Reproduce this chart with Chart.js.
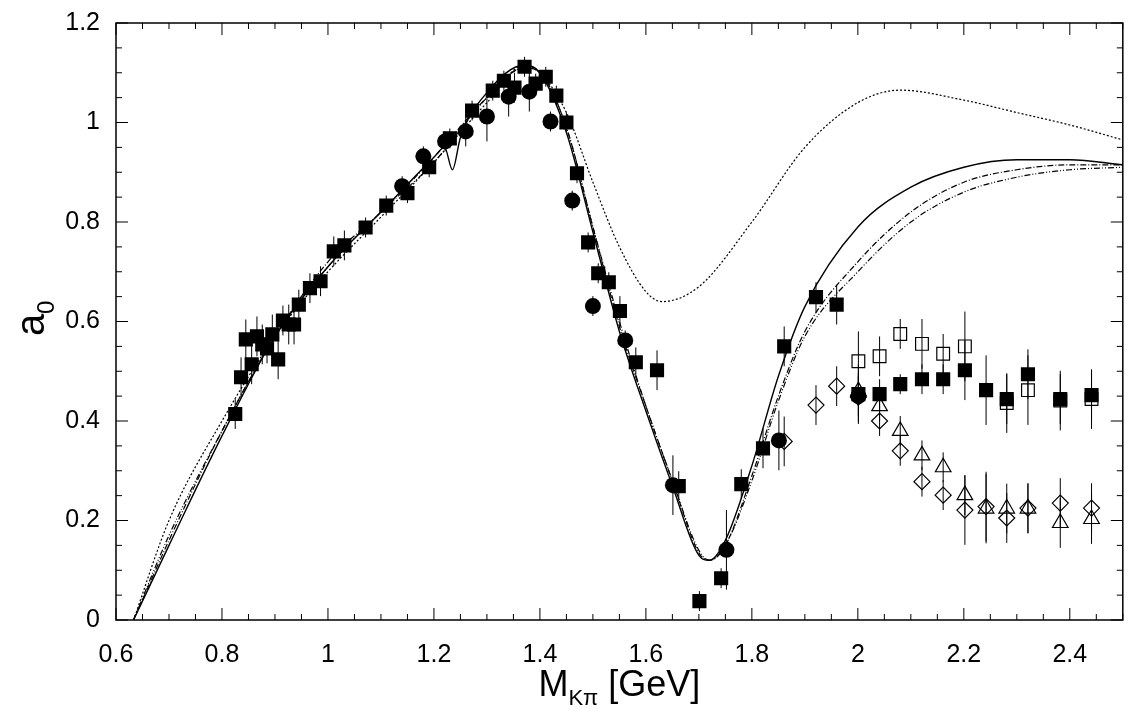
<!DOCTYPE html>
<html>
<head>
<meta charset="utf-8">
<script src="https://cdn.jsdelivr.net/npm/chart.js@4/dist/chart.umd.min.js"></script>
<style>
  body { margin: 0; background: #fff; }
  #wrap { width: 1133px; height: 711px; }
</style>
</head>
<body>
<div id="wrap"><canvas id="a0Chart"></canvas></div>
<script>
// curves
const solidX = [0.633, 0.7, 0.8, 0.9, 1.0, 1.1, 1.2, 1.22, 1.235, 1.25, 1.3, 1.37, 1.4, 1.45, 1.5, 1.55, 1.6, 1.65, 1.7, 1.72, 1.75, 1.8, 1.85, 1.9, 2.0, 2.1, 2.2, 2.3, 2.4, 2.5];
const solidY = [0, 0.15, 0.37, 0.57, 0.71, 0.82, 0.93, 0.95, 0.905, 0.97, 1.06, 1.115, 1.10, 0.98, 0.78, 0.58, 0.42, 0.27, 0.13, 0.12, 0.16, 0.31, 0.49, 0.63, 0.79, 0.87, 0.91, 0.925, 0.925, 0.915];
const dashAX = [0.633, 0.7, 0.8, 0.9, 1.0, 1.1, 1.2, 1.3, 1.37, 1.4, 1.45, 1.5, 1.55, 1.6, 1.65, 1.7, 1.72, 1.75, 1.8, 1.85, 1.9, 2.0, 2.1, 2.2, 2.3, 2.4, 2.5];
const dashAY = [0, 0.16, 0.38, 0.57, 0.72, 0.82, 0.93, 1.05, 1.11, 1.10, 0.99, 0.79, 0.59, 0.43, 0.28, 0.135, 0.12, 0.15, 0.29, 0.45, 0.58, 0.72, 0.82, 0.88, 0.905, 0.915, 0.915];
const dashBY = [0, 0.17, 0.38, 0.57, 0.71, 0.82, 0.92, 1.05, 1.11, 1.10, 0.99, 0.79, 0.60, 0.43, 0.28, 0.14, 0.12, 0.15, 0.28, 0.44, 0.57, 0.70, 0.80, 0.86, 0.89, 0.905, 0.91];
const dotX = [0.633, 0.7, 0.8, 0.9, 1.0, 1.1, 1.2, 1.3, 1.37, 1.4, 1.45, 1.5, 1.55, 1.6, 1.63, 1.7, 1.8, 1.9, 2.0, 2.08, 2.2, 2.3, 2.4, 2.5];
const dotY = [0, 0.20, 0.40, 0.57, 0.70, 0.81, 0.92, 1.04, 1.115, 1.10, 1.02, 0.88, 0.75, 0.66, 0.64, 0.67, 0.80, 0.95, 1.04, 1.065, 1.045, 1.02, 0.995, 0.965];

// filled squares
const sqX = [0.825, 0.836, 0.845, 0.856, 0.866, 0.876, 0.885, 0.895, 0.906, 0.915, 0.926, 0.936, 0.945, 0.966, 0.986, 1.011, 1.031, 1.071, 1.110, 1.150, 1.191, 1.230, 1.272, 1.311, 1.332, 1.352, 1.371, 1.392, 1.411, 1.431, 1.450, 1.470, 1.491, 1.510, 1.530, 1.551, 1.581, 1.621, 1.662, 1.701, 1.742, 1.780, 1.821, 1.861, 1.921, 1.960, 2.001, 2.041, 2.080, 2.121, 2.161, 2.202, 2.242, 2.281, 2.321, 2.382, 2.441];
const sqY = [0.414, 0.488, 0.564, 0.514, 0.570, 0.554, 0.546, 0.574, 0.524, 0.602, 0.594, 0.594, 0.634, 0.667, 0.681, 0.741, 0.753, 0.789, 0.833, 0.858, 0.910, 0.968, 1.024, 1.064, 1.084, 1.070, 1.112, 1.078, 1.092, 1.054, 1.000, 0.898, 0.759, 0.697, 0.679, 0.621, 0.518, 0.502, 0.269, 0.038, 0.084, 0.273, 0.345, 0.550, 0.649, 0.634, 0.454, 0.454, 0.474, 0.484, 0.484, 0.502, 0.462, 0.444, 0.494, 0.444, 0.452];
const sqErr = [0.03, 0.04, 0.04, 0.04, 0.04, 0.04, 0.03, 0.04, 0.04, 0.03, 0.04, 0.04, 0.03, 0.03, 0.03, 0.03, 0.03, 0.02, 0.02, 0.02, 0.02, 0.02, 0.02, 0.02, 0.02, 0.03, 0.02, 0.02, 0.02, 0.02, 0.02, 0.02, 0.02, 0.02, 0.02, 0.03, 0.03, 0.04, 0.03, 0.02, 0.02, 0.03, 0.04, 0.04, 0.03, 0.04, 0.06, 0.03, 0.02, 0.03, 0.03, 0.06, 0.07, 0.05, 0.05, 0.05, 0.05];
// filled circles
const ciX = [1.140, 1.180, 1.221, 1.260, 1.300, 1.341, 1.380, 1.420, 1.461, 1.500, 1.561, 1.651, 1.752, 1.851, 2.001];
const ciY = [0.872, 0.932, 0.962, 0.982, 1.012, 1.052, 1.062, 1.002, 0.843, 0.631, 0.562, 0.271, 0.141, 0.361, 0.450];
const ciErr = [0.02, 0.02, 0.02, 0.03, 0.05, 0.04, 0.04, 0.02, 0.02, 0.02, 0.02, 0.06, 0.08, 0.06, 0.04];
// open squares
const osX = [2.001, 2.041, 2.080, 2.121, 2.161, 2.202, 2.281, 2.321, 2.382, 2.441];
const osY = [0.520, 0.530, 0.575, 0.555, 0.535, 0.550, 0.436, 0.462, 0.441, 0.444];
const osErr = [0.06, 0.04, 0.03, 0.05, 0.04, 0.07, 0.06, 0.07, 0.06, 0.06];
// open diamonds
const diX = [1.861, 1.921, 1.960, 2.001, 2.041, 2.080, 2.121, 2.161, 2.202, 2.242, 2.281, 2.321, 2.382, 2.441];
const diY = [0.359, 0.432, 0.470, 0.448, 0.400, 0.340, 0.278, 0.251, 0.221, 0.228, 0.205, 0.225, 0.235, 0.225];
const diErr = [0.05, 0.04, 0.04, 0.05, 0.03, 0.03, 0.03, 0.03, 0.07, 0.07, 0.05, 0.05, 0.05, 0.05];
// open triangles
const trX = [2.001, 2.041, 2.080, 2.121, 2.161, 2.202, 2.242, 2.281, 2.321, 2.382, 2.441];
const trY = [0.460, 0.430, 0.380, 0.331, 0.307, 0.251, 0.224, 0.224, 0.224, 0.195, 0.203];
const trErr = [0.03, 0.03, 0.03, 0.03, 0.03, 0.04, 0.07, 0.05, 0.05, 0.05, 0.05];

const xTicks = [0.6, 0.8, 1, 1.2, 1.4, 1.6, 1.8, 2, 2.2, 2.4];
const yTicks = [0, 0.2, 0.4, 0.6, 0.8, 1, 1.2];

const pts = (xs, ys) => xs.map((x, i) => ({ x: x, y: ys[i] }));
const font = "'Liberation Sans Narrow', 'Liberation Sans', Arial, sans-serif";

const line = (xs, ys, dash, w) => ({
  type: 'line', data: pts(xs, ys), borderColor: '#000', borderWidth: w || 1.2,
  borderDash: dash, pointRadius: 0, fill: false, cubicInterpolationMode: 'monotone', order: 5
});
const marks = (xs, ys, errs, style, r, filled) => ({
  type: 'scatter', data: pts(xs, ys), errs: errs, pointStyle: style, pointRadius: r,
  backgroundColor: filled ? '#000' : 'rgba(255,255,255,0)', borderColor: '#000',
  borderWidth: filled ? 0 : 1.2, order: 1
});

// error bars, frame, inward ticks, axis titles
const extras = {
  id: 'extras',
  beforeDatasetsDraw(chart) {
    const { ctx } = chart, xs = chart.scales.x, ys = chart.scales.y;
    ctx.save();
    ctx.strokeStyle = '#000'; ctx.lineWidth = 1;
    chart.data.datasets.forEach(ds => {
      if (!ds.errs) return;
      ds.data.forEach((p, i) => {
        const px = xs.getPixelForValue(p.x);
        ctx.beginPath();
        ctx.moveTo(px, ys.getPixelForValue(p.y - ds.errs[i]));
        ctx.lineTo(px, ys.getPixelForValue(p.y + ds.errs[i]));
        ctx.stroke();
      });
    });
    ctx.restore();
  },
  afterDraw(chart) {
    const { ctx, chartArea: a } = chart, xs = chart.scales.x, ys = chart.scales.y;
    ctx.save();
    ctx.strokeStyle = '#000'; ctx.lineWidth = 1.5;
    ctx.strokeRect(a.left, a.top, a.right - a.left, a.bottom - a.top);
    ctx.lineWidth = 1;
    ctx.beginPath();
    for (let v = 0.6; v <= 2.5001; v += 0.05) {
      const px = xs.getPixelForValue(v);
      const major = Math.abs(v * 5 - Math.round(v * 5)) < 0.01;
      const len = major ? 12 : 6;
      ctx.moveTo(px, a.bottom); ctx.lineTo(px, a.bottom - len);
      ctx.moveTo(px, a.top); ctx.lineTo(px, a.top + len);
    }
    for (let v = 0; v <= 1.2001; v += 0.05) {
      const py = ys.getPixelForValue(v);
      const major = Math.abs(v * 5 - Math.round(v * 5)) < 0.01;
      const len = major ? 12 : 6;
      ctx.moveTo(a.left, py); ctx.lineTo(a.left + len, py);
      ctx.moveTo(a.right, py); ctx.lineTo(a.right - len, py);
    }
    ctx.stroke();
    ctx.fillStyle = '#000';
    ctx.textBaseline = 'alphabetic';
    // x title
    ctx.font = '36px ' + font;
    const cx = (a.left + a.right) / 2;
    const w1 = ctx.measureText('M').width;
    ctx.font = '22px ' + font;
    const w2 = ctx.measureText('Kπ').width;
    ctx.font = '36px ' + font;
    const w3 = ctx.measureText(' [GeV]').width;
    let sx = cx - (w1 + w2 + w3) / 2;
    ctx.fillText('M', sx, 696);
    ctx.font = '22px ' + font;
    ctx.fillText('Kπ', sx + w1, 705);
    ctx.font = '36px ' + font;
    ctx.fillText(' [GeV]', sx + w1 + w2, 696);
    // y title
    ctx.translate(44, 320);
    ctx.rotate(-Math.PI / 2);
    ctx.font = '40px ' + font;
    ctx.fillText('a', -16, 0);
    ctx.font = '24px ' + font;
    ctx.fillText('0', 6, 10);
    ctx.restore();
  }
};

const ctx = document.getElementById('a0Chart').getContext('2d');
new Chart(ctx, {
  data: {
    datasets: [
      line(solidX, solidY, [], 1.4),
      line(dashAX, dashAY, [6, 2, 1, 2]),
      line(dashAX, dashBY, [6, 2, 1, 2, 1, 2]),
      line(dotX, dotY, [2, 2]),
      marks(sqX, sqY, sqErr, 'rect', 10, true),
      marks(ciX, ciY, ciErr, 'circle', 8, true),
      marks(osX, osY, osErr, 'rect', 9, false),
      marks(diX, diY, diErr, 'rectRot', 8, false),
      marks(trX, trY, trErr, 'triangle', 9, false)
    ]
  },
  options: {
    responsive: true,
    maintainAspectRatio: false,
    animation: false,
    layout: { padding: { top: 18, right: 3, left: 0, bottom: 0 } },
    plugins: { legend: { display: false }, tooltip: { enabled: false } },
    scales: {
      x: {
        type: 'linear', min: 0.6, max: 2.5,
        afterBuildTicks: s => { s.ticks = xTicks.map(v => ({ value: v })); },
        afterFit: s => { s.height = 91; },
        grid: { display: false },
        border: { display: false },
        ticks: { color: '#000', font: { size: 25, family: font }, padding: 12, maxRotation: 0,
          callback: v => String(v) }
      },
      y: {
        type: 'linear', min: 0, max: 1.2,
        afterBuildTicks: s => { s.ticks = yTicks.map(v => ({ value: v })); },
        afterFit: s => { s.width = 116; },
        grid: { display: false },
        border: { display: false },
        ticks: { color: '#000', font: { size: 25, family: font }, padding: 8,
          callback: v => String(v) }
      }
    }
  },
  plugins: [extras]
});
</script>
</body>
</html>
